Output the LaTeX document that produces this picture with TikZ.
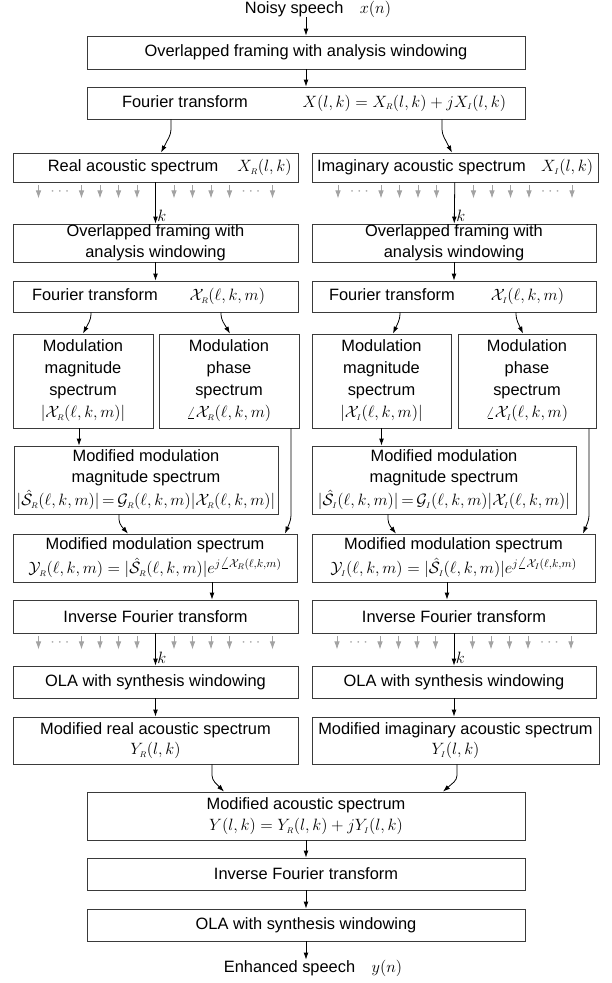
\RequirePackage{fix-cm}
\documentclass[tikz,border=0pt]{standalone}
\usepackage{fontspec}
\newfontfamily\arialfont{Liberation Sans}
\usetikzlibrary{arrows.meta}
\usepackage{xcolor}
\definecolor{boxline}{HTML}{3A3A3A}
\definecolor{bingray}{HTML}{A3A3A3}
\newcommand{\sR}{{\scriptscriptstyle R}}
\newcommand{\sI}{{\scriptscriptstyle I}}
\tikzset{
  base/.style={font=\arialfont\fontsize{16.4}{20.5}\selectfont, text=black, inner sep=0pt},
  box/.style={base, draw=boxline, line width=0.8pt, align=center, minimum width=285pt, minimum height=32pt},
  widebox/.style={box, minimum width=438pt},
  arrow/.style={-{Latex[length=7pt,width=4.8pt]}, line width=0.8pt, draw=black},
  bendarrow/.style={arrow, rounded corners=4pt},
  binarrow/.style={-{Latex[length=8pt,width=5.6pt]}, line width=0.8pt, draw=bingray},
  bindots/.style={base, text=bingray},
  klabel/.style={base, right=1.5pt},
}

\begin{document}
\begin{tikzpicture}[x=1pt,y=-1pt]
  \useasboundingbox (0,0) rectangle (612,983);

  % input and common front end
  \node[base] (noisy) at (318,9) {Noisy speech\quad$x(n)$};
  \node[widebox,minimum height=33pt] (frameA) at (306,52.5) {Overlapped framing with analysis windowing};
  \node[widebox] (fourA) at (306,103) {\makebox[400pt][l]{\hspace{16pt}Fourier transform\hfill$X(l,k)=X_\sR(l,k)+jX_\sI(l,k)$}};

  % real and imaginary acoustic spectra
  \node[box,minimum height=29pt] (realAc) at (155.5,167.5) {\makebox[272pt][r]{Real acoustic spectrum\hspace{19pt}$X_\sR(l,k)$}};
  \node[box,minimum width=286pt,minimum height=29pt] (imagAc) at (455,167.5) {\makebox[276pt]{Imaginary acoustic spectrum\hfill$X_\sI(l,k)$}};

  % modulation domain, real part
  \node[box,minimum height=38pt] (frameL) at (155.5,243) {Overlapped framing with\\analysis windowing};
  \node[box,minimum height=31pt] (fourL) at (155.5,296.5) {\makebox[247pt]{Fourier transform\hfill$\mathcal{X}_\sR(\ell,k,m)$\hspace{14pt}}};
  \node[box,minimum width=140pt,minimum height=94pt] (magL) at (83,381) {Modulation\\[1.5pt]magnitude\\[1.5pt]spectrum\\[1.5pt]$|\mathcal{X}_\sR(\ell,k,m)|$};
  \node[box,minimum width=140pt,minimum height=94pt] (phaseL) at (229,381) {Modulation\\[1.5pt]phase\\[1.5pt]spectrum\\[1.5pt]$\angle\mathcal{X}_\sR(\ell,k,m)$};
  \node[box,minimum width=264pt,minimum height=68pt] (modmagL) at (146,480) {Modified modulation\\magnitude spectrum\\[3pt]$|\hat{\mathcal{S}}_\sR(\ell,k,m)|\,{=}\,\mathcal{G}_\sR(\ell,k,m)|\mathcal{X}_\sR(\ell,k,m)|$};
  \node[box,minimum width=284pt,minimum height=48pt] (modspecL) at (155,558) {Modified modulation spectrum\\[3.5pt]$\mathcal{Y}_\sR(\ell,k,m)=|\hat{\mathcal{S}}_\sR(\ell,k,m)|e^{j\angle\mathcal{X}_\sR(\ell,k,m)}$};
  \node[box,minimum height=33pt] (iftL) at (155.5,616.5) {Inverse Fourier transform};
  \node[box] (olaL) at (155.5,682) {OLA with synthesis windowing};
  \node[box,minimum height=47pt] (modrealL) at (155.5,740.5) {Modified real acoustic spectrum\\$Y_\sR(l,k)$};

  % modulation domain, imaginary part
  \node[box,minimum width=284pt,minimum height=38pt] (frameR) at (454,243) {Overlapped framing with\\analysis windowing};
  \node[box,minimum width=284pt,minimum height=31pt] (fourR) at (454,296.5) {\makebox[250pt]{Fourier transform\hfill$\mathcal{X}_\sI(\ell,k,m)$\hspace{15pt}}};
  \node[box,minimum width=139pt,minimum height=94pt] (magR) at (381.5,381) {Modulation\\[1.5pt]magnitude\\[1.5pt]spectrum\\[1.5pt]$|\mathcal{X}_\sI(\ell,k,m)|$};
  \node[box,minimum width=138pt,minimum height=94pt] (phaseR) at (527,381) {Modulation\\[1.5pt]phase\\[1.5pt]spectrum\\[1.5pt]$\angle\mathcal{X}_\sI(\ell,k,m)$};
  \node[box,minimum width=264pt,minimum height=68pt] (modmagR) at (444,480) {Modified modulation\\magnitude spectrum\\[3pt]$|\hat{\mathcal{S}}_\sI(\ell,k,m)|\,{=}\,\mathcal{G}_\sI(\ell,k,m)|\mathcal{X}_\sI(\ell,k,m)|$};
  \node[box,minimum width=283pt,minimum height=48pt] (modspecR) at (453.5,558) {Modified modulation spectrum\\[3.5pt]$\mathcal{Y}_\sI(\ell,k,m)=|\hat{\mathcal{S}}_\sI(\ell,k,m)|e^{j\angle\mathcal{X}_\sI(\ell,k,m)}$};
  \node[box,minimum width=284pt,minimum height=33pt] (iftR) at (454,616.5) {Inverse Fourier transform};
  \node[box,minimum width=284pt] (olaR) at (454,682) {OLA with synthesis windowing};
  \node[box,minimum width=287pt,minimum height=47pt] (modimagR) at (455.5,740.5) {Modified imaginary acoustic spectrum\\$Y_\sI(l,k)$};

  % common back end
  \node[widebox,minimum height=48pt] (modAc) at (306,816) {Modified acoustic spectrum\\[1pt]$Y(l,k)=Y_\sR(l,k)+jY_\sI(l,k)$};
  \node[widebox] (iftC) at (306,874) {Inverse Fourier transform};
  \node[widebox] (olaC) at (306,925) {OLA with synthesis windowing};
  \node[base] (enhanced) at (313,968) {Enhanced speech\quad$y(n)$};

  % frequency bins
  \foreach \src in {realAc,imagAc,iftL,iftR} {
    \foreach \d in {-117,-74,-55.5,-37,-18.5,18.5,37,55.5,74,117}
      \draw[binarrow] ([xshift=\d pt]\src.south) ++(0,3) -- ++(0,13);
    \node[bindots] (\src-dl) at ([xshift=-95.5pt,yshift=-9pt]\src.south) {$\cdots$};
    \node[bindots] (\src-dr) at ([xshift=95.5pt,yshift=-9pt]\src.south) {$\cdots$};
  }

  % connectors
  \draw[arrow] (noisy.south -| frameA.north) -- (frameA.north);
  \draw[arrow] (frameA) -- (fourA);
  \draw[bendarrow] ([xshift=-135pt]fourA.south) -- ++(0,14) -- ([xshift=5.5pt]realAc.north);
  \draw[bendarrow] ([xshift=136pt]fourA.south) -- ++(0,14) -- ([xshift=-3pt]imagAc.north);

  \draw[arrow] (realAc) -- node[klabel,pos=0.8] {$k$} (frameL);
  \draw[arrow] (imagAc) -- node[klabel,pos=0.8] {$k$} (frameR);
  \draw[arrow] (frameL) -- (fourL);
  \draw[arrow] (frameR) -- (fourR);
  \draw[bendarrow] ([xshift=-64.5pt]fourL.south) -- ++(0,6) -- (magL.north);
  \draw[bendarrow] ([xshift=65.5pt]fourL.south) -- ++(0,6) -- ([xshift=1pt]phaseL.north);
  \draw[bendarrow] ([xshift=-54pt]fourR.south) -- ++(0,6) -- ([xshift=11.5pt]magR.north);
  \draw[bendarrow] ([xshift=62pt]fourR.south) -- ++(0,6) -- ([xshift=-4pt]phaseR.north);

  \draw[arrow] ([xshift=-4pt]magL.south) -- ([xshift=-4pt]magL.south |- modmagL.north);
  \draw[arrow] (magR.south) -- (magR.south |- modmagR.north);
  \draw[bendarrow] ([xshift=62pt]phaseL.south) -- ([xshift=62pt,yshift=-5pt]phaseL.south |- modmagL.south) -- ([xshift=130pt]modspecL.north);
  \draw[bendarrow] ([xshift=62pt]phaseR.south) -- ([xshift=62pt,yshift=-5pt]phaseR.south |- modmagR.south) -- ([xshift=129.5pt]modspecR.north);
  \draw[bendarrow] ([xshift=-27pt]modmagL.south) -- ++(0,9) -- ([xshift=-27pt]modspecL.north);
  \draw[bendarrow] ([xshift=-56pt]modmagR.south) -- ++(0,9) -- ([xshift=-57.5pt]modspecR.north);

  \draw[arrow] ([xshift=57pt]modspecL.south) -- ([xshift=57pt]modspecL.south |- iftL.north);
  \draw[arrow] ([xshift=-6.5pt]modspecR.south) -- ([xshift=-6.5pt]modspecR.south |- iftR.north);
  \draw[arrow] (iftL) -- node[klabel,pos=0.76] {$k$} (olaL);
  \draw[arrow] (iftR) -- node[klabel,pos=0.76] {$k$} (olaR);
  \draw[arrow] (olaL) -- (modrealL);
  \draw[arrow] (olaR.south) -- (olaR.south |- modimagR.north);

  \draw[bendarrow] ([xshift=56.5pt]modrealL.south) -- ++(0,15) -- ([xshift=-82pt]modAc.north);
  \draw[bendarrow] ([xshift=1.5pt]modimagR.south) -- ++(0,15) -- ([xshift=137pt]modAc.north);
  \draw[arrow] (modAc) -- (iftC);
  \draw[arrow] (iftC) -- (olaC);
  \draw[arrow] (olaC.south) -- (olaC.south |- enhanced.north);
\end{tikzpicture}
\end{document}
